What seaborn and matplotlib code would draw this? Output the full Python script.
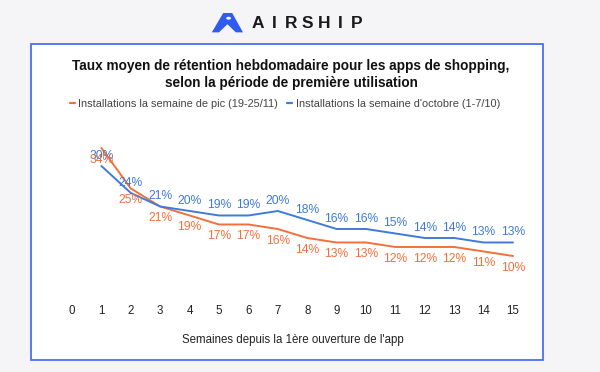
import matplotlib
matplotlib.use("Agg")
import matplotlib.pyplot as plt
import matplotlib.patches as mpatches
import seaborn as sns
import pandas as pd

# données
semaines = list(range(1, 16))
pic = [34, 25, 21, 19, 17, 17, 16, 14, 13, 13, 12, 12, 12, 11, 10]
octobre = [30, 24, 21, 20, 19, 19, 20, 18, 16, 16, 15, 14, 14, 13, 13]
ticks = list(range(0, 16))
serie_pic = "Installations la semaine de pic (19-25/11)"
serie_oct = "Installations la semaine d'octobre (1-7/10)"

orange = "#f2703c"
bleu = "#3f7bd8"

df = pd.DataFrame({
    "semaine": semaines * 2,
    "taux": pic + octobre,
    "serie": [serie_pic] * len(pic) + [serie_oct] * len(octobre),
})

sns.set_theme(style="white")
plt.rcParams["font.family"] = ["Liberation Sans", "DejaVu Sans"]

fig = plt.figure(figsize=(6, 3.72), dpi=100)
fig.patch.set_facecolor("#f5f5f7")

# cadre blanc bordé de bleu
cadre = mpatches.Rectangle((0.0517, 0.0323), 0.853, 0.849, transform=fig.transFigure,
                           facecolor="white", edgecolor="#4d6ef5", linewidth=1.3, zorder=-5)
fig.patches.append(cadre)

# logo Airship
logo = mpatches.Polygon([(0.353, 0.913), (0.372, 0.965), (0.387, 0.965), (0.405, 0.913),
                         (0.393, 0.913), (0.379, 0.935), (0.365, 0.913)],
                        closed=True, transform=fig.transFigure, facecolor="#2f5bf0",
                        edgecolor="none")
fig.patches.append(logo)
fig.patches.append(mpatches.Circle((0.381, 0.951), 0.004, transform=fig.transFigure,
                                   facecolor="white", edgecolor="none"))
for i, lettre in enumerate("AIRSHIP"):
    fig.text(0.43 + i * 0.0275, 0.938, lettre, ha="center", va="center",
             fontsize=12.5, fontweight="bold", color="#1a1a1a")

ax = fig.add_axes([0.0955, 0.1909, 0.784, 0.4234])
ax.set_zorder(2)
ax.patch.set_visible(False)
sns.lineplot(data=df, x="semaine", y="taux", hue="serie", ax=ax,
             palette={serie_pic: orange, serie_oct: bleu}, linewidth=1.4)

for x, v in zip(semaines, octobre):
    ax.annotate(f"{v}%", (x, v), xytext=(0, 7.5), textcoords="offset points",
                ha="center", va="center", fontsize=8.7, color=bleu)
for x, v in zip(semaines, pic):
    ax.annotate(f"{v}%", (x, v), xytext=(0, -8.5), textcoords="offset points",
                ha="center", va="center", fontsize=8.7, color=orange)

ax.set_xlim(-0.5, 15.5)
ax.set_ylim(0, 35)
ax.set_xticks(ticks)
ax.set_xticklabels([str(t) for t in ticks])
ax.set_yticks([])
ax.tick_params(axis="x", length=0, pad=3, labelsize=8.3, labelcolor="#222222")
for s in ax.spines.values():
    s.set_visible(False)
ax.set_ylabel("")
ax.set_xlabel("Semaines depuis la 1ère ouverture de l'app", fontsize=8.3,
              color="#222222", labelpad=12)

leg = ax.legend(loc="center", bbox_to_anchor=(0.484, 1.25), ncol=2, frameon=False,
                handlelength=0.45, handletextpad=0.35, columnspacing=0.8,
                fontsize=7.9, borderaxespad=0)
for t in leg.get_texts():
    t.set_color("#444444")
for h in leg.get_lines():
    h.set_linewidth(1.6)

fig.text(0.485, 0.80, "Taux moyen de rétention hebdomadaire pour les apps de shopping,\n"
         "selon la période de première utilisation", ha="center", va="center",
         fontsize=9.8, fontweight="bold", color="#111111", linespacing=1.25)

fig.savefig("out.png", dpi=100, facecolor=fig.get_facecolor())
